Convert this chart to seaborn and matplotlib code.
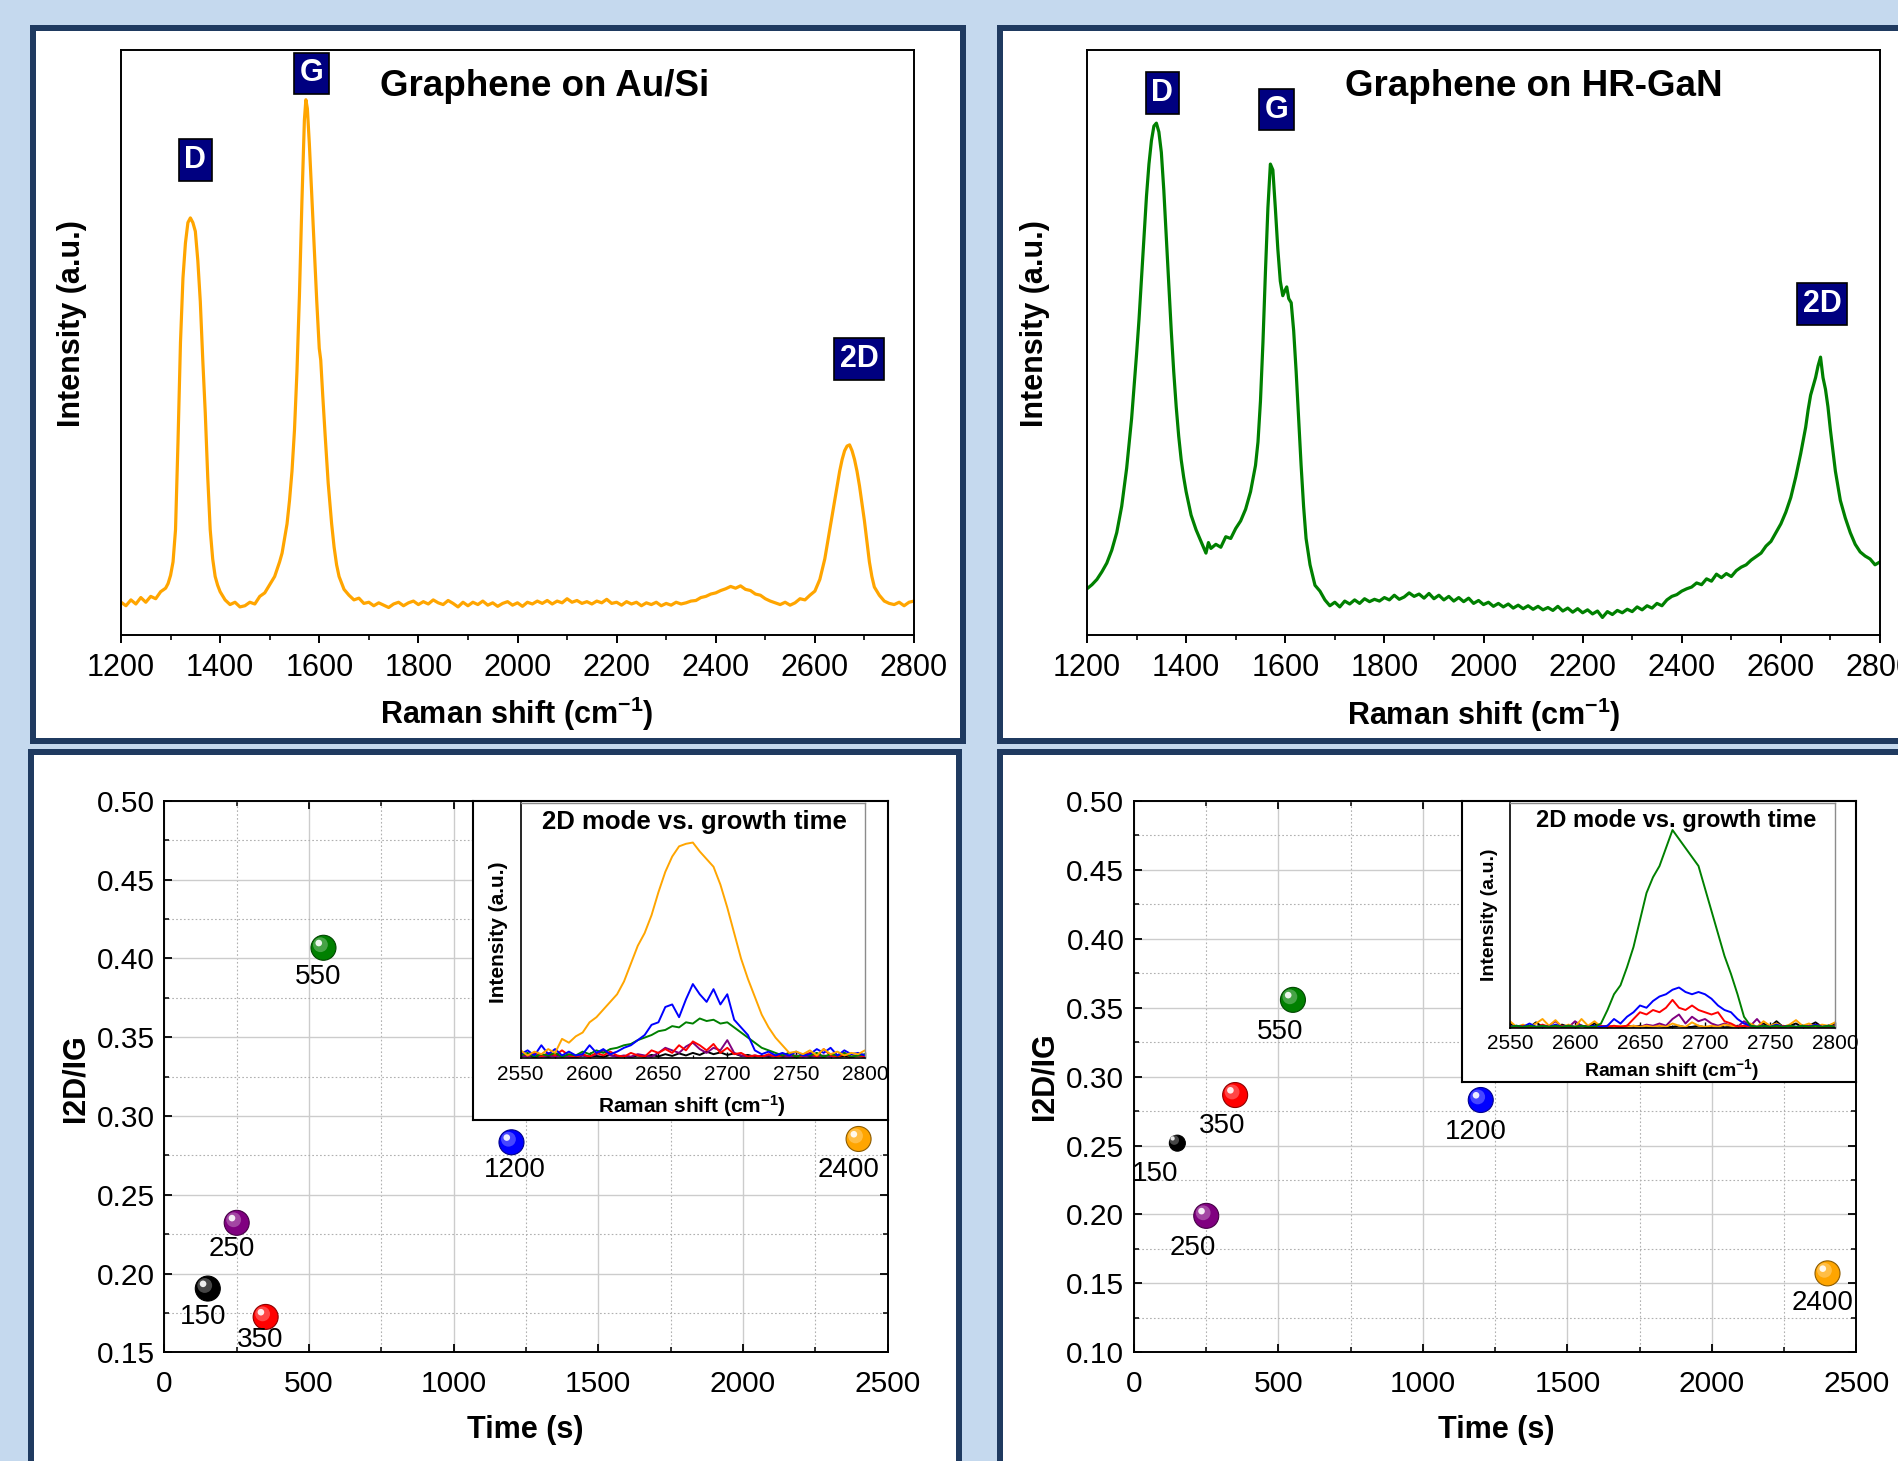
import numpy as np
import pandas as pd
import matplotlib
matplotlib.use("Agg")
import matplotlib.pyplot as plt
import matplotlib.transforms as mtransforms
from matplotlib.patches import Rectangle
from matplotlib.ticker import MultipleLocator, FormatStrFormatter
import matplotlib.colors as mcolors
import seaborn as sns

# ---------------------------------------------------------------- data
au_spectrum = [
    (1200, 5.6), (1210, 5.0), (1220, 6.0), (1230, 5.3), (1240, 6.4), (1250, 5.6), (1260, 6.6), (1270, 6.2),
    (1280, 7.4), (1290, 8.0), (1295, 8.8), (1300, 10.2), (1305, 12.5), (1310, 18.0), (1315, 33.0), (1320, 50.0),
    (1325, 61.0), (1330, 67.0), (1335, 70.5), (1340, 71.3), (1345, 70.5), (1350, 69.0), (1355, 64.0), (1360, 57.0),
    (1365, 47.0), (1370, 38.0), (1375, 27.0), (1380, 18.0), (1385, 13.0), (1390, 10.0), (1395, 8.5), (1400, 7.4),
    (1410, 6.0), (1420, 5.2), (1430, 5.6), (1440, 4.8), (1450, 5.0), (1460, 5.6), (1470, 5.3), (1480, 6.6),
    (1490, 7.2), (1500, 8.6), (1510, 10.0), (1520, 12.5), (1525, 14.0), (1530, 16.5), (1535, 19.0), (1540, 23.0),
    (1545, 28.0), (1550, 35.0), (1555, 45.0), (1560, 58.0), (1565, 74.0), (1570, 88.0), (1573, 91.5), (1576, 90.0),
    (1580, 84.0), (1585, 75.0), (1590, 66.0), (1595, 57.0), (1600, 49.0), (1603, 47.0), (1607, 41.0), (1612, 34.0),
    (1618, 26.0), (1625, 19.0), (1630, 15.0), (1635, 12.0), (1640, 10.0), (1650, 7.8), (1660, 6.8), (1670, 6.0),
    (1680, 6.3), (1690, 5.4), (1700, 5.6), (1710, 5.0), (1720, 5.5), (1730, 5.1), (1740, 4.7), (1750, 5.3),
    (1760, 5.6), (1770, 5.0), (1780, 5.5), (1790, 5.8), (1800, 5.2), (1810, 5.7), (1820, 5.3), (1830, 6.0),
    (1840, 5.5), (1850, 5.2), (1860, 5.9), (1870, 5.4), (1880, 4.8), (1890, 5.6), (1900, 5.0), (1910, 5.6),
    (1920, 5.2), (1930, 5.8), (1940, 5.1), (1950, 5.5), (1960, 4.9), (1970, 5.4), (1980, 5.7), (1990, 5.1),
    (2000, 5.5), (2010, 4.9), (2020, 5.6), (2030, 5.3), (2040, 5.8), (2050, 5.4), (2060, 5.9), (2070, 5.3),
    (2080, 5.8), (2090, 5.5), (2100, 6.2), (2110, 5.6), (2120, 5.9), (2130, 5.4), (2140, 5.7), (2150, 5.3),
    (2160, 5.8), (2170, 5.5), (2180, 6.1), (2190, 5.4), (2200, 5.6), (2210, 5.1), (2220, 5.7), (2230, 5.3),
    (2240, 5.6), (2250, 5.0), (2260, 5.5), (2270, 5.2), (2280, 5.6), (2290, 5.0), (2300, 5.4), (2310, 5.1),
    (2320, 5.6), (2330, 5.3), (2340, 5.5), (2350, 5.8), (2360, 5.9), (2370, 6.4), (2380, 6.6), (2390, 7.0),
    (2400, 7.2), (2410, 7.6), (2420, 7.9), (2430, 8.3), (2440, 8.0), (2450, 8.4), (2460, 7.8), (2470, 7.6),
    (2480, 7.0), (2490, 6.8), (2500, 6.2), (2510, 5.8), (2520, 5.5), (2530, 5.2), (2540, 5.6), (2550, 5.1),
    (2560, 5.5), (2570, 6.2), (2580, 6.0), (2590, 6.8), (2600, 7.5), (2610, 9.5), (2620, 13.0), (2625, 15.5),
    (2630, 18.0), (2635, 20.5), (2640, 23.0), (2645, 25.5), (2650, 28.0), (2655, 30.0), (2660, 31.5), (2665, 32.3),
    (2670, 32.5), (2675, 31.5), (2680, 30.0), (2685, 28.0), (2690, 25.5), (2695, 22.5), (2700, 19.5), (2705, 16.0),
    (2710, 12.5), (2715, 10.0), (2720, 8.2), (2730, 6.8), (2740, 5.8), (2750, 5.4), (2760, 5.2), (2770, 5.6),
    (2780, 5.0), (2790, 5.6), (2800, 5.8),
]

gan_spectrum = [
    (1200, 7.9), (1210, 8.6), (1220, 9.5), (1230, 10.8), (1240, 12.3), (1250, 14.5), (1260, 17.5), (1270, 22.0),
    (1280, 28.5), (1290, 37.0), (1300, 48.0), (1305, 54.0), (1310, 61.0), (1315, 68.0), (1320, 75.0), (1325, 80.5),
    (1330, 84.5), (1335, 87.0), (1340, 87.5), (1345, 86.0), (1350, 82.5), (1355, 76.0), (1360, 68.0), (1365, 60.0),
    (1370, 52.0), (1375, 45.0), (1380, 39.0), (1385, 34.0), (1390, 30.0), (1395, 27.0), (1400, 24.5), (1410, 20.5),
    (1420, 18.0), (1430, 16.0), (1440, 14.0), (1445, 15.8), (1450, 14.8), (1460, 15.5), (1470, 15.0), (1480, 16.8),
    (1490, 16.5), (1500, 18.2), (1510, 19.5), (1520, 21.5), (1530, 24.5), (1540, 29.0), (1545, 33.0), (1550, 40.0),
    (1555, 50.0), (1560, 62.0), (1565, 73.0), (1570, 80.5), (1575, 79.5), (1580, 73.0), (1585, 66.0), (1590, 60.5),
    (1595, 58.0), (1600, 59.0), (1603, 59.5), (1607, 57.5), (1612, 56.8), (1617, 52.0), (1622, 45.0), (1627, 37.0),
    (1632, 29.0), (1637, 22.0), (1642, 16.5), (1650, 12.0), (1660, 8.5), (1670, 7.5), (1680, 6.0), (1690, 5.0),
    (1700, 5.6), (1710, 4.8), (1720, 5.8), (1730, 5.3), (1740, 6.0), (1750, 5.4), (1760, 6.2), (1770, 5.7),
    (1780, 6.1), (1790, 5.8), (1800, 6.4), (1810, 6.0), (1820, 6.8), (1830, 6.1), (1840, 6.5), (1850, 7.2),
    (1860, 6.6), (1870, 7.0), (1880, 6.3), (1890, 7.1), (1900, 6.2), (1910, 6.8), (1920, 6.0), (1930, 6.6),
    (1940, 5.8), (1950, 6.4), (1960, 5.7), (1970, 6.3), (1980, 5.4), (1990, 5.9), (2000, 5.2), (2010, 5.6),
    (2020, 4.9), (2030, 5.4), (2040, 4.8), (2050, 5.3), (2060, 4.6), (2070, 5.1), (2080, 4.5), (2090, 5.0),
    (2100, 4.4), (2110, 4.9), (2120, 4.3), (2130, 4.7), (2140, 4.2), (2150, 4.9), (2160, 4.1), (2170, 4.6),
    (2180, 3.9), (2190, 4.5), (2200, 3.8), (2210, 4.3), (2220, 3.6), (2230, 4.1), (2240, 3.0), (2250, 4.0),
    (2260, 3.5), (2270, 4.2), (2280, 3.8), (2290, 4.4), (2300, 4.0), (2310, 4.8), (2320, 4.3), (2330, 5.0),
    (2340, 4.6), (2350, 5.4), (2360, 5.0), (2370, 6.0), (2380, 6.6), (2390, 6.9), (2400, 7.5), (2410, 7.9),
    (2420, 8.2), (2430, 8.9), (2440, 8.6), (2450, 9.6), (2460, 9.2), (2470, 10.4), (2480, 9.8), (2490, 10.5),
    (2500, 10.0), (2510, 11.0), (2520, 11.6), (2530, 12.0), (2540, 12.8), (2550, 13.4), (2560, 14.0), (2570, 15.2),
    (2580, 16.0), (2590, 17.5), (2600, 19.0), (2610, 21.0), (2620, 23.5), (2630, 27.0), (2640, 31.0), (2650, 35.5),
    (2655, 38.5), (2660, 41.0), (2665, 42.5), (2670, 44.0), (2675, 46.0), (2680, 47.5), (2685, 44.0), (2690, 42.0),
    (2695, 39.0), (2700, 35.0), (2705, 31.5), (2710, 28.0), (2720, 23.0), (2730, 20.0), (2740, 17.5), (2750, 15.5),
    (2760, 14.2), (2770, 13.5), (2780, 13.0), (2790, 12.0), (2800, 12.5),
]

# scatter: growth time (s) vs I2D/IG
growth_time = [150, 250, 350, 550, 1200, 2400]
ratio_au = [0.1905, 0.2322, 0.1725, 0.4067, 0.2833, 0.2854]
ratio_gan = [0.2517, 0.1990, 0.2866, 0.3556, 0.2830, 0.1573]

# insets: 2D band for each growth time (sampled every 5 cm-1 from 2550 to 2800)
inset_shift = list(range(2550, 2801, 5))
inset_au = {
    150: [0.5, 1, 0.3, 0.8, 0.4, 1, 0.5, 0.8, 0.3, 1, 0.5, 0.8, 0.4, 1.2, 0.5, 0.8, 0.4, 1, 0.5, 1.2,
          0.6, 1.5, 0.8, 1.8, 1, 2, 1.2, 2.5, 1.5, 2.2, 1.2, 1.8, 0.8, 1.2, 0.5, 0.8, 0.4, 1, 0.5, 0.8,
          0.3, 1, 0.5, 0.8, 0.4, 1, 0.5, 0.8, 0.3, 1, 0.5],
    250: [1, 0.5, 1.5, 0.5, 1, 0.5, 1, 0.5, 0.5, 1, 0.5, 1.5, 3, 1, 0.5, 1, 0.5, 1.5, 1, 0.5,
          2, 4, 3, 2, 4.5, 6, 3.5, 2, 4, 3, 7, 2, 1, 0.5, 1, 0.5, 1, 0.5, 1, 0.5,
          1, 0.5, 1, 0.5, 1, 0.5, 1, 2, 0.5, 1, 0.5],
    350: [2.5, 1, 2, 0.5, 2, 1, 3, 1, 0.5, 1.5, 0.5, 2, 1, 2.5, 1, 0.5, 2, 1, 0.5, 3,
          2, 3.5, 2, 5, 3, 6.5, 5, 3, 5.5, 2, 4, 1.5, 2, 0.5, 1, 0.5, 1.5, 0.5, 1, 2,
          0.5, 1, 2, 0.5, 3.5, 1, 0.5, 1.5, 0.5, 1, 0.5],
    550: [1, 2, 0.5, 1.5, 1, 2, 0.5, 1.5, 1, 2.5, 1.5, 3, 2, 3.5, 4, 5, 5.5, 7, 8, 9,
          10.5, 11, 12.5, 12, 14, 13.5, 15.5, 14.5, 15, 13.5, 14, 12, 10, 8, 6, 4, 3, 2, 1, 2,
          0.5, 1.5, 1, 2, 0.5, 1.5, 1, 2, 0.5, 1, 1.5],
    1200: [1.5, 3, 1, 5, 1.5, 3.5, 1, 2.5, 1, 1.5, 5, 2, 3.5, 1.5, 2.5, 4, 5, 7, 9, 13,
           14, 20, 21, 16, 23, 29, 25, 22, 27, 21, 25, 15, 12, 9, 3, 1.5, 2.5, 1, 2, 1,
           2.5, 1, 1.5, 3.5, 2, 4, 1, 3, 1.5, 2, 1],
    2400: [3, 1, 2.5, 1.5, 3.5, 2, 7.5, 6, 8.5, 10, 14, 16, 19, 22, 25, 30, 37, 44, 49, 56,
           65, 73, 79, 83, 84, 84.5, 81, 78, 75, 68, 59, 49, 39, 31, 24, 17, 12, 8, 5, 2,
           2.5, 1.5, 3, 1, 3.5, 1.5, 2.5, 1, 2, 1.5, 3],
}
inset_gan = {
    150: [2, 0.5, 1, 0.3, 2.5, 0.5, 1, 0.3, 1.5, 0.5, 0.3, 1, 0.5, 2, 0.3, 1, 0.5, 0.3, 1, 0.5,
          1, 0.3, 0.5, 1, 0.3, 0.5, 1, 0.3, 0.5, 1, 0.3, 0.5, 1, 0.3, 0.5, 1, 0.3, 1.5, 0.5, 2,
          0.5, 3, 0.5, 1, 2, 0.3, 1, 2.5, 0.5, 1, 2],
    250: [1, 0.5, 0.3, 1, 0.5, 0.3, 1, 3, 0.5, 0.3, 3, 1, 0.5, 0.3, 1, 0.5, 0.3, 1, 0.5, 1,
          0.5, 1.5, 1, 2, 1, 4, 6, 2, 5, 3, 4, 2, 1, 2, 1, 0.5, 3, 1, 4, 0.5,
          1, 0.5, 0.3, 1, 0.5, 0.3, 1, 0.5, 0.3, 1, 0.5],
    350: [0.5, 0.3, 1, 0.5, 0.3, 1.5, 0.5, 0.3, 1, 0.5, 0.3, 1, 0.5, 0.3, 1, 0.5, 1, 0.5, 1, 4,
          7, 6, 8, 7, 9, 12.5, 9, 8, 10, 8, 7, 6, 7, 3, 2, 0.5, 1, 0.5, 0.3, 1,
          0.5, 0.3, 1, 0.5, 0.3, 1, 0.5, 1.5, 0.5, 0.3, 1],
    550: [0.5, 1, 0.5, 1, 0.5, 1, 0.5, 1, 0.5, 1, 0.5, 1, 0.5, 0.5, 2, 8, 15, 19, 27, 36,
          48, 60, 67, 72, 80, 88, 84, 80, 76, 72, 62, 52, 42, 32, 24, 15, 5, 1, 0.5, 1,
          0.5, 1, 0.5, 1, 0.5, 1, 0.5, 1, 0.5, 1, 0.5],
    1200: [0.5, 1, 0.5, 2, 0.5, 1, 0.5, 1.5, 0.5, 1, 0.5, 1, 0.5, 1, 0.5, 1, 4, 2, 5, 7,
           10, 9, 12, 14, 15, 17, 18, 16, 15, 16, 15, 13, 10, 8, 7, 4, 2, 1, 0.5, 1,
           0.5, 1.5, 0.5, 1, 0.5, 1, 0.5, 1.5, 0.5, 1, 0.5],
    2400: [3, 0.5, 1.5, 0.5, 2, 4, 1, 3.5, 0.5, 1.5, 0.5, 4, 1, 3, 0.5, 1, 0.5, 1, 0.5, 1,
           0.5, 1, 0.5, 1, 0.5, 2, 1, 0.5, 2.5, 1, 0.5, 1, 0.5, 1.5, 1, 0.5, 1, 2, 0.5, 3,
           1, 2, 0.5, 1.5, 3.5, 1, 2, 0.5, 1.5, 1, 2.5],
}

# ---------------------------------------------------------------- style
time_colors = {150: "#000000", 250: "#800080", 350: "#FF0000", 550: "#008000", 1200: "#0000FF", 2400: "#FFA500"}
BG = "#C5D9EE"
FRAME = "#1F3A60"
NAVY = "#000080"

sns.set_theme(style="ticks")
plt.rcParams["font.family"] = ["Liberation Sans", "DejaVu Sans"]
plt.rcParams["mathtext.default"] = "regular"
plt.rcParams["axes.edgecolor"] = "black"
plt.rcParams["text.color"] = "black"
plt.rcParams["axes.labelcolor"] = "black"
plt.rcParams["xtick.color"] = "black"
plt.rcParams["ytick.color"] = "black"

W, H = 1898, 1461
fig = plt.figure(figsize=(W / 100, H / 100), dpi=100, facecolor=BG)


def fr(x0, y0, x1, y1):
    return [x0 / W, 1 - y1 / H, (x1 - x0) / W, (y1 - y0) / H]


def fxy(x, y):
    return (x / W, 1 - y / H)


# panel frames
for (x0, y0, x1, y1) in [(33, 28, 963, 741), (1000, 28, 1910, 741), (31, 752, 959, 1475), (1000, 752, 1910, 1475)]:
    fig.add_artist(Rectangle((x0 / W, 1 - y1 / H), (x1 - x0) / W, (y1 - y0) / H, transform=fig.transFigure,
                             facecolor="white", edgecolor=FRAME, linewidth=6 * 0.72, zorder=-5))

ax1 = fig.add_axes(fr(121, 50, 914, 635))
ax2 = fig.add_axes(fr(1087, 50, 1880, 635))
ax3 = fig.add_axes(fr(164.4, 800.7, 887.5, 1352.4))
ax4 = fig.add_axes(fr(1134, 800.7, 1856.4, 1352.4))
box3 = fig.add_axes(fr(473, 801, 887.5, 1120))
in3 = fig.add_axes(fr(520.7, 803, 865, 1058))
box4 = fig.add_axes(fr(1462, 801, 1856.4, 1082))
in4 = fig.add_axes(fr(1510, 803, 1835, 1028))


def set_label_px(axis_obj, x, y):
    axis_obj.set_label_coords(x / W, 1 - y / H, transform=fig.transFigure)
    axis_obj.label.set_ha("center")
    axis_obj.label.set_va("center")


# ---------------------------------------------------------------- top spectra
def spectrum_panel(ax, spec, color, title, title_xy, boxes, xlab_xy, ylab_xy):
    df = pd.DataFrame(spec, columns=["shift", "intensity"])
    sns.lineplot(data=df, x="shift", y="intensity", ax=ax, color=color, linewidth=2.3, estimator=None)
    ax.set_xlim(1200, 2800)
    ax.set_ylim(0, 100)
    ax.set_yticks([])
    ax.xaxis.set_major_locator(MultipleLocator(200))
    ax.xaxis.set_minor_locator(MultipleLocator(100))
    ax.tick_params(axis="x", which="major", direction="out", length=6, width=1.4, labelsize=22, pad=7,
                   colors="black")
    ax.tick_params(axis="x", which="minor", direction="out", length=3.5, width=1.2)
    for s in ax.spines.values():
        s.set_linewidth(1.4)
        s.set_color("black")
        s.set_visible(True)
    ax.set_xlabel("Raman shift (cm$^{-1}$)", fontsize=22, fontweight="bold")
    ax.set_ylabel("Intensity (a.u.)", fontsize=22, fontweight="bold")
    set_label_px(ax.xaxis, *xlab_xy)
    set_label_px(ax.yaxis, *ylab_xy)
    fig.text(*fxy(*title_xy), title, fontsize=26.5, fontweight="bold", ha="center", va="center")
    for label, (bx, by) in boxes:
        ax.text(bx, by, label, ha="center", va="center", color="white", fontsize=22, fontweight="bold",
                bbox=dict(boxstyle="square,pad=0.19", fc=NAVY, ec="black", lw=1.2), zorder=6)


spectrum_panel(ax1, au_spectrum, time_colors[2400], "Graphene on Au/Si", (544.7, 87),
               [("D", (1350, 81.2)), ("G", (1584, 96.0)), ("2D", (2689, 47.2))],
               (517, 714), (72, 323.5))
spectrum_panel(ax2, gan_spectrum, time_colors[550], "Graphene on HR-GaN", (1534, 87),
               [("D", (1352, 92.7)), ("G", (1582, 89.8)), ("2D", (2683, 56.6))],
               (1483.5, 715), (1035, 323.5))


# ---------------------------------------------------------------- scatter panels
def lighten(c, f):
    r, g, b = mcolors.to_rgb(c)
    return (r + (1 - r) * f, g + (1 - g) * f, b + (1 - b) * f)


def darken(c, f):
    r, g, b = mcolors.to_rgb(c)
    return (r * f, g * f, b * f)


def scatter_panel(ax, ratios, ylim, diam_px, label_offsets, xlab_xy, ylab_xy):
    df = pd.DataFrame({"time": growth_time, "ratio": ratios, "label": [str(t) for t in growth_time]})
    base_sizes = {str(t): (d / 1.389) ** 2 for t, d in zip(growth_time, diam_px)}
    pal = {str(t): time_colors[t] for t in growth_time}
    sns.scatterplot(data=df, x="time", y="ratio", hue="label", palette=pal, size="label", sizes=base_sizes,
                    legend=False, ax=ax, edgecolor=[darken(time_colors[t], 0.55) for t in growth_time],
                    linewidth=0.8, zorder=5)
    off1 = ax.transData + mtransforms.ScaledTranslation(-2.2 / 72, 2.2 / 72, fig.dpi_scale_trans)
    sns.scatterplot(data=df, x="time", y="ratio", hue="label",
                    palette={k: lighten(v, 0.35) for k, v in pal.items()}, size="label",
                    sizes={k: v * 0.35 for k, v in base_sizes.items()}, legend=False, ax=ax,
                    linewidth=0, alpha=0.8, zorder=6, transform=off1)
    off2 = ax.transData + mtransforms.ScaledTranslation(-3.4 / 72, 3.4 / 72, fig.dpi_scale_trans)
    sns.scatterplot(data=df, x="time", y="ratio", color="white", size="label",
                    sizes={k: v * 0.07 for k, v in base_sizes.items()}, legend=False, ax=ax,
                    linewidth=0, alpha=0.9, zorder=7, transform=off2)
    for t, r, (dx, dy) in zip(growth_time, ratios, label_offsets):
        ax.annotate(str(t), (t, r), xytext=(dx, dy), textcoords="offset points", ha="center", va="center",
                    fontsize=20, color="black", zorder=8)
    ax.set_xlim(0, 2500)
    ax.set_ylim(*ylim)
    ax.xaxis.set_major_locator(MultipleLocator(500))
    ax.xaxis.set_minor_locator(MultipleLocator(250))
    ax.yaxis.set_major_locator(MultipleLocator(0.05))
    ax.yaxis.set_minor_locator(MultipleLocator(0.025))
    ax.yaxis.set_major_formatter(FormatStrFormatter("%.2f"))
    ax.grid(which="major", color="#CCCCCC", linewidth=1.0, linestyle="-")
    ax.grid(which="minor", color="#B0B0B0", linewidth=0.8, linestyle=(0, (1.5, 2.0)))
    ax.set_axisbelow(True)
    ax.tick_params(which="major", direction="in", length=6, width=1.3, top=True, right=True, labelsize=21.5,
                   colors="black")
    ax.tick_params(axis="x", which="major", pad=13)
    ax.tick_params(axis="y", which="major", pad=7)
    ax.tick_params(which="minor", direction="in", length=3.5, width=1.1, top=True, right=True)
    for s in ax.spines.values():
        s.set_linewidth(1.4)
        s.set_color("black")
        s.set_visible(True)
    ax.set_xlabel("Time (s)", fontsize=22, fontweight="bold")
    ax.set_ylabel("I2D/IG", fontsize=22, fontweight="bold")
    set_label_px(ax.xaxis, *xlab_xy)
    set_label_px(ax.yaxis, *ylab_xy)


scatter_panel(ax3, ratio_au, (0.15, 0.50), [25, 25, 25, 25, 25, 25],
              [(-3.6, -20.5), (-3.6, -18.7), (-4.3, -16.6), (-4.0, -21.0), (2.2, -20.0), (-7.2, -22.3)],
              (525.6, 1429.7), (75, 1078))
scatter_panel(ax4, ratio_gan, (0.10, 0.50), [16, 25, 25, 25, 25, 25],
              [(-15.8, -22.3), (-10.0, -23.0), (-9.4, -22.3), (-9.4, -23.0), (-3.6, -23.0), (-3.6, -21.6)],
              (1495.8, 1429.7), (1044.4, 1076))


# ---------------------------------------------------------------- insets
def inset_panel(box, ax, spectra, order, title, title_xy, title_fs, xlab_xy, ylab_xy, lab_fs, tick_pad):
    box.set_xticks([])
    box.set_yticks([])
    box.set_facecolor("white")
    for s in box.spines.values():
        s.set_linewidth(1.5)
        s.set_color("black")
        s.set_visible(True)
    rows = []
    for t in order:
        for x, v in zip(inset_shift, spectra[t]):
            rows.append((x, v, str(t)))
    df = pd.DataFrame(rows, columns=["shift", "intensity", "time"])
    sns.lineplot(data=df, x="shift", y="intensity", hue="time", hue_order=[str(t) for t in order],
                 palette={str(t): time_colors[t] for t in order}, linewidth=1.4, estimator=None,
                 legend=False, ax=ax)
    ax.set_facecolor("white")
    ax.set_xlim(2550, 2800)
    ax.set_ylim(0, 100)
    ax.set_yticks([])
    ax.xaxis.set_major_locator(MultipleLocator(50))
    ax.xaxis.set_minor_locator(MultipleLocator(25))
    ax.tick_params(axis="x", which="major", direction="in", length=4, width=1.0, labelsize=15,
                   pad=tick_pad, colors="black")
    ax.tick_params(axis="x", which="minor", direction="in", length=2.5, width=0.9)
    for side in ["left", "bottom"]:
        ax.spines[side].set_color("black")
        ax.spines[side].set_linewidth(1.2)
        ax.spines[side].set_visible(True)
    for side in ["top", "right"]:
        ax.spines[side].set_color("#8C8C8C")
        ax.spines[side].set_linewidth(1.0)
        ax.spines[side].set_visible(True)
    ax.set_xlabel("Raman shift (cm$^{-1}$)", fontsize=lab_fs, fontweight="bold")
    ax.set_ylabel("Intensity (a.u.)", fontsize=lab_fs, fontweight="bold")
    set_label_px(ax.xaxis, *xlab_xy)
    set_label_px(ax.yaxis, *ylab_xy)
    fig.text(*fxy(*title_xy), title, fontsize=title_fs, fontweight="bold", ha="center", va="center",
             zorder=10)


inset_panel(box3, in3, inset_au, [150, 250, 350, 550, 1200, 2400], "2D mode vs. growth time",
            (694.7, 822), 18.5, (692, 1106), (498, 932), 15, 5)
inset_panel(box4, in4, inset_gan, [150, 250, 2400, 350, 1200, 550], "2D mode vs. growth time",
            (1675.8, 820.7), 17, (1672, 1070), (1490, 915), 14, 4)

fig.savefig("out.png", dpi=100, facecolor=BG)
